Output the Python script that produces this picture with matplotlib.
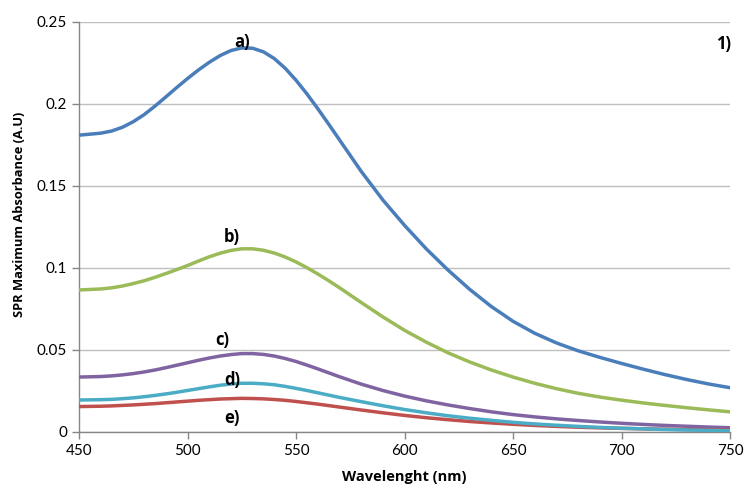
import matplotlib
matplotlib.use("Agg")
import matplotlib.pyplot as plt

wavelength = [450, 460, 465, 470, 475, 480, 485, 490, 495, 500, 505, 510, 515, 520, 525, 530,
              535, 540, 545, 550, 555, 560, 565, 570, 580, 590, 600, 610, 620, 630, 640, 650,
              660, 670, 680, 690, 700, 710, 720, 730, 740, 750]

series_a = [0.1810, 0.1822, 0.1835, 0.1858, 0.1892, 0.1935, 0.1987, 0.2043, 0.2100, 0.2155,
            0.2207, 0.2254, 0.2295, 0.2326, 0.2342, 0.2340, 0.2318, 0.2277, 0.2218, 0.2145,
            0.2062, 0.1972, 0.1878, 0.1782, 0.1590, 0.1415, 0.1260, 0.1117, 0.0988, 0.0870,
            0.0765, 0.0675, 0.0602, 0.0543, 0.0495, 0.0455, 0.0418, 0.0383, 0.0350, 0.0320,
            0.0293, 0.0270]
series_b = [0.0866, 0.0872, 0.0879, 0.0890, 0.0905, 0.0922, 0.0943, 0.0966, 0.0990, 0.1015,
            0.1042, 0.1068, 0.1090, 0.1107, 0.1117, 0.1117, 0.1108, 0.1091, 0.1067, 0.1037,
            0.1002, 0.0964, 0.0923, 0.0880, 0.0790, 0.0702, 0.0620, 0.0548, 0.0483, 0.0427,
            0.0378, 0.0335, 0.0297, 0.0264, 0.0236, 0.0213, 0.0194, 0.0177, 0.0162, 0.0148,
            0.0135, 0.0123]
series_c = [0.0335, 0.0338, 0.0342, 0.0348, 0.0356, 0.0366, 0.0378, 0.0392, 0.0407, 0.0422,
            0.0437, 0.0451, 0.0463, 0.0472, 0.0478, 0.0478, 0.0473, 0.0463, 0.0448, 0.0430,
            0.0408, 0.0385, 0.0361, 0.0337, 0.0292, 0.0253, 0.0219, 0.0190, 0.0165, 0.0143,
            0.0123, 0.0106, 0.0092, 0.0080, 0.0070, 0.0061, 0.0053, 0.0046, 0.0040, 0.0035,
            0.0030, 0.0026]
series_d = [0.0195, 0.0197, 0.0199, 0.0203, 0.0208, 0.0215, 0.0223, 0.0232, 0.0242, 0.0253,
            0.0264, 0.0275, 0.0285, 0.0292, 0.0297, 0.0297, 0.0294, 0.0288, 0.0278, 0.0266,
            0.0253, 0.0239, 0.0225, 0.0211, 0.0185, 0.0160, 0.0137, 0.0117, 0.0099, 0.0084,
            0.0071, 0.0059, 0.0049, 0.0041, 0.0034, 0.0028, 0.0023, 0.0019, 0.0015, 0.0012,
            0.0010, 0.0008]
series_e = [0.0155, 0.0157, 0.0159, 0.0162, 0.0165, 0.0169, 0.0173, 0.0178, 0.0183, 0.0188,
            0.0193, 0.0197, 0.0201, 0.0203, 0.0205, 0.0204, 0.0202, 0.0198, 0.0193, 0.0186,
            0.0178, 0.0170, 0.0161, 0.0152, 0.0134, 0.0117, 0.0101, 0.0087, 0.0075, 0.0064,
            0.0055, 0.0047, 0.0040, 0.0034, 0.0029, 0.0025, 0.0022, 0.0019, 0.0017, 0.0015,
            0.0013, 0.0012]

series_labels = ["a)", "b)", "c)", "d)", "e)"]
label_x = [525, 520.5, 516, 520.5, 520.5]
label_y = [0.2378, 0.119, 0.056, 0.0317, 0.0085]
colors = ["#4A7EBB", "#9BBB59", "#8064A2", "#4BACC6", "#C0504D"]

x_ticks = [450, 500, 550, 600, 650, 700, 750]
y_ticks = [0, 0.05, 0.1, 0.15, 0.2, 0.25]
y_tick_labels = ["0", "0.05", "0.1", "0.15", "0.2", "0.25"]

plt.rcParams['font.family'] = ['Lato', 'DejaVu Sans']
bold_family = ['Open Sans', 'DejaVu Sans']

fig = plt.figure(figsize=(7.46, 4.91), dpi=100)
ax = fig.add_axes([0.1059, 0.1202, 0.8727, 0.835])

all_series = [series_a, series_b, series_c, series_d, series_e]
draw_order = [0, 1, 2, 4, 3]
for i in draw_order:
    ax.plot(wavelength, all_series[i], color=colors[i], lw=2.5, zorder=3)

for lab, lx, ly in zip(series_labels, label_x, label_y):
    ax.text(lx, ly, lab, ha='center', va='center', fontsize=12, fontweight='bold',
            family=bold_family, color='black', zorder=4)
ax.text(746.8, 0.2366, "1)", ha='center', va='center', fontsize=12, fontweight='bold',
        family=bold_family, color='black')

ax.set_xlim(450, 750)
ax.set_ylim(0, 0.25)
ax.set_xticks(x_ticks)
ax.set_yticks(y_ticks)
ax.set_yticklabels(y_tick_labels)
ax.tick_params(axis='both', labelsize=11, colors='#868686', labelcolor='black', length=5, width=1)
ax.grid(axis='y', color='#BFBFBF', lw=1)
ax.set_axisbelow(True)
for sp in ['top', 'right']:
    ax.spines[sp].set_visible(False)
for sp in ['left', 'bottom']:
    ax.spines[sp].set_color('#868686')
    ax.spines[sp].set_linewidth(1)

ax.set_xlabel("Wavelenght (nm)", fontsize=10.5, fontweight='bold', family=bold_family, labelpad=9)
ax.set_ylabel("SPR Maximum Absorbance (A.U)", fontsize=9.3, fontweight='bold', family=bold_family)
ax.yaxis.set_label_coords(-0.0814, 0.530)

fig.savefig("out.png", dpi=100, facecolor='white')
